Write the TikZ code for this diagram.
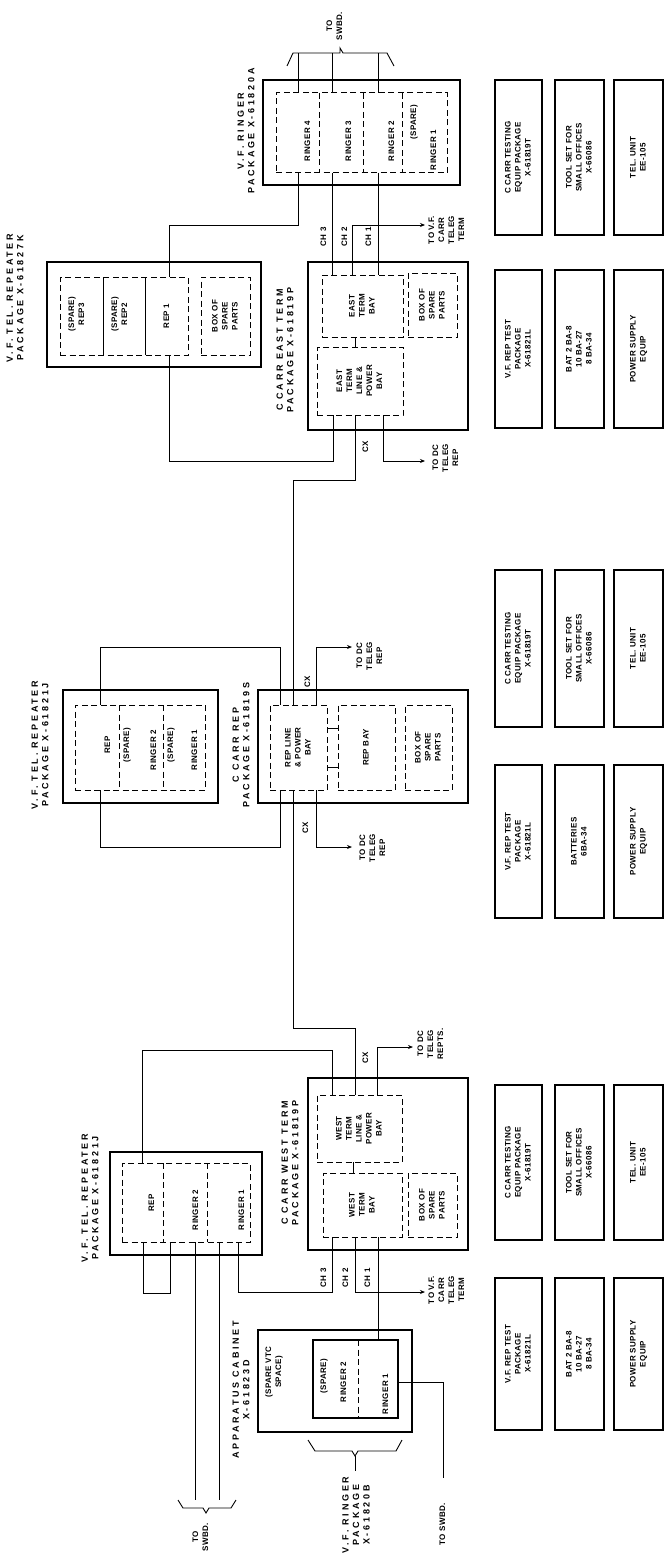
\documentclass[tikz,border=0pt]{standalone}
\usepackage{fontspec}
\usepackage{graphicx}
\setmainfont{Liberation Sans}
\newfontfamily\boxfont[LetterSpace=5]{Liberation Sans}
\newfontfamily\ttlfont[LetterSpace=30]{Liberation Sans}
\usetikzlibrary{arrows.meta}
\newcommand\rt[1]{\rotatebox{90}{\begin{tabular}{@{}c@{}}#1\end{tabular}}}
\newcommand\bx[7]{\node[#1, minimum width={(#5)-(#3)}, minimum height={(#6)-(#4)}] (#2) at ({((#3)+(#5))/2},{((#4)+(#6))/2}) {#7};}
\tikzset{
  txt/.style={inner sep=0pt, outer sep=0pt, font=\boxfont\bfseries\fontsize{8}{10}\selectfont},
  ttl/.style={inner sep=0pt, outer sep=0pt, font=\ttlfont\bfseries\fontsize{9}{10.5}\selectfont},
  obox/.style={draw, line width=1.8pt, inner sep=0pt, outer sep=0pt, font=\boxfont\bfseries\fontsize{8}{10}\selectfont},
  sbox/.style={draw, line width=1.3pt, inner sep=0pt, outer sep=0pt},
  dbox/.style={draw, line width=1pt, dash pattern=on 6pt off 3.5pt, inner sep=0pt, outer sep=0pt, font=\boxfont\bfseries\fontsize{8}{10}\selectfont},
  dsh/.style={line width=1pt, dash pattern=on 6pt off 3.5pt},
  wire/.style={line width=0.9pt},
  arr/.style={line width=0.9pt, -{Stealth[length=5pt,width=4pt]}}
}
\begin{document}
\begin{tikzpicture}[x=1pt,y=-1pt]
\useasboundingbox (0,0) rectangle (671,1562);
\foreach \v in {100,103,119,142,143,145,163,169,170,195,207,219,238,280,293,298,316,319,332,333,352,353,355,358,363,377,378,383,402}
  {\coordinate (X\v) at (\v,0);}
\foreach \v in {728,767,1382}
  {\coordinate (Y\v) at (0,\v);}

% ================= EAST =================
\bx{obox}{ringA}{263}{80}{460}{185}{}
\bx{dbox}{ringAi}{276}{93}{447}{173}{}
\foreach \v in {319,363,402} \draw[dsh] (ringAi.north -| X\v) -- (ringAi.south -| X\v);
\node[txt] (rA4) at (308,141) {\rt{RINGER 4}};
\node[txt] (rA3) at (349,141) {\rt{RINGER 3}};
\node[txt] (rA2) at (392,141) {\rt{RINGER 2}};
\node[txt] (rAs) at (414,122) {\rt{(SPARE)}};
\node[txt] (rA1) at (434,150) {\rt{RINGER 1}};
\node[ttl] (tRA) at (247,131) {\rt{V.F. RINGER\\PACKAGE X-61820A}};
\coordinate (brE) at (340,53);
\draw[wire] (287,66) -- (293,53) -- (337,53) -- (brE) -- ++(0,-5) -- ++(3,5) -- (387,53) -- (394,66);
\foreach \v in {298,332,378} \draw[wire] (ringAi.north -| X\v) -- (brE -| X\v);
\node[txt] (swE) at (335,26) {\rt{TO\\SWBD.}};

\bx{obox}{repK}{47}{262}{261}{367}{}
\bx{dbox}{repKi}{60}{277}{188}{355}{}
\bx{dbox}{repKs}{201}{277}{250}{355}{\rt{BOX OF\\SPARE\\PARTS}}
\foreach \v in {103,145} \draw[wire] (repKi.north -| X\v) -- (repKi.south -| X\v);
\node[txt] (rK3) at (77,314) {\rt{(SPARE)\\REP3}};
\node[txt] (rK2) at (120,314) {\rt{(SPARE)\\REP2}};
\node[txt] (rK1) at (167,316) {\rt{REP 1}};
\node[ttl] (tRK) at (16,298) {\rt{V.F. TEL. REPEATER\\PACKAGE X-61827K}};

\bx{obox}{ctE}{308}{262}{468}{430}{}
\bx{dbox}{etb}{322}{275}{403}{337}{\rt{EAST\\TERM\\BAY}}
\bx{dbox}{ebx}{408}{273}{457}{337}{\rt{BOX OF\\SPARE\\PARTS}}
\bx{dbox}{elp}{317}{347}{403}{415}{\rt{EAST\\TERM\\LINE \&\\POWER\\BAY}}
\node[ttl] (tCE) at (286,350) {\rt{C CARR EAST TERM\\PACKAGE X-61819P}};
\draw[wire] (etb.south -| X355) -- (elp.north -| X355);

\draw[wire] (ringAi.south -| X298) -- (298,225) -| (repKi.north -| X169);
\draw[wire] (ringAi.south -| X332) -- (etb.north -| X332);
\draw[wire] (ringAi.south -| X378) -- (etb.north -| X378);
\coordinate (aE1) at (425,225);
\draw[arr] (etb.north -| X352) |- (aE1);
\node[txt] (ch3E) at (324,237) {\rt{CH 3}};
\node[txt] (ch2E) at (345,237) {\rt{CH 2}};
\node[txt] (ch1E) at (369,237) {\rt{CH 1}};
\node[txt] (tvfE) at (447,230) {\rt{TO V.F.\\CARR\\TELEG\\TERM}};
\draw[wire] (elp.south -| X333) -- (333,461) -| (repKi.south -| X169);
\coordinate (aE2) at (425,461);
\draw[arr] (elp.south -| X383) |- (aE2);
\node[txt] (tdcE) at (446,458) {\rt{TO DC\\TELEG\\REP}};
\node[txt] (cxE) at (366,447) {\rt{CX}};

% ================= MIDDLE =================
\bx{obox}{repJ}{63}{690}{218}{803}{}
\bx{dbox}{repJi}{75}{705}{205}{790}{}
\foreach \v in {119,163} \draw[dsh] (repJi.north -| X\v) -- (repJi.south -| X\v);
\node[txt] (rJr) at (108,745) {\rt{REP}};
\node[txt] (rJs2) at (127,745) {\rt{(SPARE)}};
\node[txt] (rJ2) at (154,750) {\rt{RINGER 2}};
\node[txt] (rJs1) at (171,745) {\rt{(SPARE)}};
\node[txt] (rJ1) at (195,750) {\rt{RINGER 1}};
\node[ttl] (tRJ) at (41,745) {\rt{V.F. TEL. REPEATER\\PACKAGE X-61821J}};

\bx{obox}{ctR}{258}{690}{468}{803}{}
\bx{dbox}{rlp}{270}{705}{327}{790}{\rt{REP LINE\\\& POWER\\BAY}}
\bx{dbox}{rbay}{338}{705}{395}{790}{\rt{REP BAY}}
\bx{dbox}{rbx}{405}{705}{452}{790}{\rt{BOX OF\\SPARE\\PARTS}}
\draw[wire] (rlp.east |- Y728) -- (rbay.west |- Y728);
\draw[wire] (rlp.east |- Y767) -- (rbay.west |- Y767);
\node[ttl] (tCR) at (242,745) {\rt{C CARR REP\\PACKAGE X-61819S}};

\draw[wire] (elp.south -| X355) -- (355,480) -| (rlp.north -| X293);
\draw[wire] (repJi.north -| X100) -- (100,647) -| (rlp.north -| X280);
\draw[wire] (repJi.south -| X100) -- (100,847) -| (rlp.south -| X280);
\coordinate (aR1) at (352,647);
\draw[arr] (rlp.north -| X316) |- (aR1);
\node[txt] (tdcR1) at (370,656) {\rt{TO DC\\TELEG\\REP}};
\node[txt] (cxR1) at (308,682) {\rt{CX}};
\coordinate (aR2) at (352,847);
\draw[arr] (rlp.south -| X316) |- (aR2);
\node[txt] (tdcR2) at (373,848) {\rt{TO DC\\TELEG\\REP}};
\node[txt] (cxR2) at (306,828) {\rt{CX}};

% ================= WEST =================
\bx{obox}{repW}{110}{1152}{262}{1255}{}
\bx{dbox}{repWi}{122}{1163}{250}{1242}{}
\foreach \v in {163,207} \draw[dsh] (repWi.north -| X\v) -- (repWi.south -| X\v);
\node[txt] (rWr) at (152,1203) {\rt{REP}};
\node[txt] (rW2) at (196,1210) {\rt{RINGER 2}};
\node[txt] (rW1) at (242,1210) {\rt{RINGER 1}};
\node[ttl] (tRW) at (91,1198) {\rt{V.F. TEL. REPEATER\\PACKAGE X-61821J}};

\bx{obox}{ctW}{308}{1078}{468}{1250}{}
\bx{dbox}{wlp}{317}{1095}{402}{1162}{\rt{WEST\\TERM\\LINE \&\\POWER\\BAY}}
\bx{dbox}{wtb}{323}{1173}{402}{1237}{\rt{WEST\\TERM\\BAY}}
\bx{dbox}{wbx}{408}{1173}{457}{1237}{\rt{BOX OF\\SPARE\\PARTS}}
\draw[wire] (wlp.south -| X353) -- (wtb.north -| X353);
\node[ttl] (tCW) at (291,1163) {\rt{C CARR WEST TERM\\PACKAGE X-61819P}};

\draw[wire] (rlp.south -| X293) -- (293,1028) -| (wlp.north -| X355);
\draw[wire] (repWi.north -| X142) -- (142,1050) -| (wlp.north -| X332);
\coordinate (aW1) at (413,1047);
\draw[arr] (wlp.north -| X377) |- (aW1);
\node[txt] (tdcW) at (431,1044) {\rt{TO DC\\TELEG\\REPTS.}};
\node[txt] (cxW) at (366,1058) {\rt{CX}};
\draw[wire] (repWi.south -| X238) -- (238,1292) -| (wtb.south -| X332);
\coordinate (aW2) at (425,1292);
\draw[arr] (wtb.south -| X355) |- (aW2);
\node[txt] (tvfW) at (447,1290) {\rt{TO V.F.\\CARR\\TELEG\\TERM}};
\node[txt] (ch3W) at (324,1278) {\rt{CH 3}};
\node[txt] (ch2W) at (346,1278) {\rt{CH 2}};
\node[txt] (ch1W) at (368,1278) {\rt{CH 1}};
\draw[wire] (repWi.south -| X143) -- (143,1293) -- (170,1293) -- (repWi.south -| X170);
\coordinate (brW) at (206,1500);
\foreach \v in {195,219} \draw[wire] (repWi.south -| X\v) -- (brW -| X\v);
\draw[wire] (178,1500) -- (183,1508) -- (203,1508) -- (206,1513) -- (209,1508) -- (231,1508) -- (236,1500);
\node[txt] (swW) at (201,1537) {\rt{TO\\SWBD.}};

\bx{obox}{app}{258}{1330}{412}{1432}{}
\bx{sbox}{appRi}{313}{1340}{398}{1418}{}
\draw[dsh] (appRi.north -| X358) -- (appRi.south -| X358);
\node[txt] (aSp) at (324,1376) {\rt{(SPARE)}};
\node[txt] (aR2) at (344,1382) {\rt{RINGER 2}};
\node[txt] (aR1) at (386,1394) {\rt{RINGER 1}};
\node[txt] (aVtc) at (274,1372) {\rt{(SPARE VTC\\SPACE)}};
\node[ttl] (tAP) at (242,1390) {\rt{APPARATUS CABINET\\X-61823D}};
\draw[wire] (wtb.south -| X378) -- (appRi.north -| X378);
\coordinate (swAend) at (443,1478);
\draw[wire] (appRi.east |- Y1382) -| (swAend);
\node[txt] (swA) at (443,1524) {\rt{TO SWBD.}};
\coordinate (brA) at (355,1456);
\draw[wire] (308,1440) -- (315,1451) -- (352,1451) -- (brA) -- (358,1451) -- (396,1451) -- (402,1440);
\draw[wire] (brA) -- ++(0,15);
\node[ttl] (tRB) at (357,1515) {\rt{V.F. RINGER\\PACKAGE\\X-61820B}};

% ================= RIGHT COLUMN =================
\def\colA{495}\def\colAr{542}\def\colB{555}\def\colBr{604}\def\colC{614}\def\colCr{663}
% east group
\bx{obox}{eA1}{\colA}{80}{\colAr}{235}{\rt{C CARR TESTING\\EQUIP PACKAGE\\X-61819T}}
\bx{obox}{eB1}{\colB}{80}{\colBr}{235}{\rt{TOOL SET FOR\\SMALL OFFICES\\X-66086}}
\bx{obox}{eC1}{\colC}{80}{\colCr}{235}{\rt{TEL. UNIT\\EE-105}}
\bx{obox}{eA2}{\colA}{270}{\colAr}{428}{\rt{V.F. REP TEST\\PACKAGE\\X-61821L}}
\bx{obox}{eB2}{\colB}{270}{\colBr}{428}{\rt{BAT 2 BA-8\\10 BA-27\\8 BA-34}}
\bx{obox}{eC2}{\colC}{270}{\colCr}{428}{\rt{POWER SUPPLY\\EQUIP}}
% middle group
\bx{obox}{mA1}{\colA}{570}{\colAr}{727}{\rt{C CARR TESTING\\EQUIP PACKAGE\\X-61819T}}
\bx{obox}{mB1}{\colB}{570}{\colBr}{727}{\rt{TOOL SET FOR\\SMALL OFFICES\\X-66086}}
\bx{obox}{mC1}{\colC}{570}{\colCr}{727}{\rt{TEL. UNIT\\EE-105}}
\bx{obox}{mA2}{\colA}{765}{\colAr}{918}{\rt{V.F. REP TEST\\PACKAGE\\X-61821L}}
\bx{obox}{mB2}{\colB}{765}{\colBr}{918}{\rt{BATTERIES\\6BA-34}}
\bx{obox}{mC2}{\colC}{765}{\colCr}{918}{\rt{POWER SUPPLY\\EQUIP}}
% west group
\bx{obox}{wA1}{\colA}{1085}{\colAr}{1240}{\rt{C CARR TESTING\\EQUIP PACKAGE\\X-61819T}}
\bx{obox}{wB1}{\colB}{1085}{\colBr}{1240}{\rt{TOOL SET FOR\\SMALL OFFICES\\X-66086}}
\bx{obox}{wC1}{\colC}{1085}{\colCr}{1240}{\rt{TEL. UNIT\\EE-105}}
\bx{obox}{wA2}{\colA}{1278}{\colAr}{1430}{\rt{V.F. REP TEST\\PACKAGE\\X-61821L}}
\bx{obox}{wB2}{\colB}{1278}{\colBr}{1430}{\rt{BAT 2 BA-8\\10 BA-27\\8 BA-34}}
\bx{obox}{wC2}{\colC}{1278}{\colCr}{1430}{\rt{POWER SUPPLY\\EQUIP}}
\end{tikzpicture}
\end{document}
